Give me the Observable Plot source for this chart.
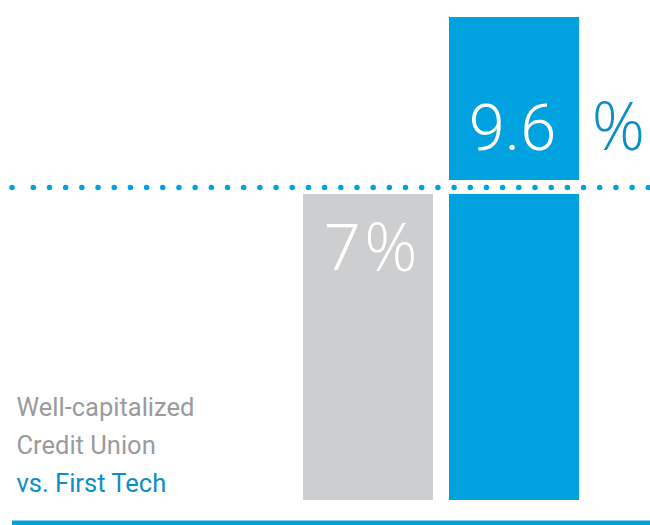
<!DOCTYPE html>
<html>
<head>
<meta charset="utf-8">
<script src="https://cdn.jsdelivr.net/npm/d3@7"></script>
<script src="https://cdn.jsdelivr.net/npm/@observablehq/plot@0.6"></script>
<style>
  html, body { margin: 0; padding: 0; background: #fff; }
  #chart svg { display: block; }
</style>
</head>
<body>
<div id="chart"></div>
<script>
// ---- data ----
const categories = ["Well-capitalized Credit Union", "First Tech"];
const values = [7, 9.6];
const valueLabels = ["7", "9.6"];
const unitLabel = "%";
const threshold = 7;
const labelGray = ["Well-capitalized", "Credit Union"];
const labelBlue = ["vs. First Tech"];
const barColors = ["#cdced0", "#00a1df"];

// ---- derived tables ----
const lower = categories.map((c, i) => ({cat: c, y1: 0, y2: Math.min(values[i], threshold), color: barColors[i]}));
const upper = categories
  .map((c, i) => ({cat: c, y1: threshold, y2: values[i], color: barColors[i]}))
  .filter(d => d.y2 > d.y1);
const labels = categories.map((c, i) => ({cat: c, y: values[i], text: valueLabels[i]}));

const BLUE_TEXT = "#0b8fc6";
const GRAY_TEXT = "#9a9b9d";

const dash = "0 21.3 " + "0 16.184 ".repeat(40);
const big = {fontSize: 65, fontWeight: 300, fontFamily: "Roboto", lineAnchor: "middle"};
const pct = {fontSize: 66, fontWeight: 300, fontFamily: "'Open Sans'", lineAnchor: "middle"};

const chart = Plot.plot({
  width: 650,
  height: 525,
  marginLeft: 12,
  marginRight: 0,
  marginTop: 0,
  marginBottom: 0,
  style: {fontFamily: "Roboto, sans-serif", background: "#fff"},
  x: {type: "band", domain: categories, range: [303, 579], paddingInner: 16 / 146, paddingOuter: 0, axis: null},
  y: {type: "linear", domain: [0, 7, 9.6], range: [500, 187, 17], axis: null},
  marks: [
    Plot.rectY(lower, {x: "cat", y1: "y1", y2: "y2", fill: "color", insetTop: 7}),
    Plot.rectY(upper, {x: "cat", y1: "y1", y2: "y2", fill: "color", insetBottom: 7}),
    Plot.ruleY([threshold], {stroke: "#00a1df", strokeWidth: 5.5, strokeLinecap: "round", strokeDasharray: dash}),
    Plot.ruleY([0], {stroke: "#00a1df", strokeWidth: 5, dy: 22.5}),
    // value labels
    Plot.text([labels[0]], {x: "cat", y: "y", text: "text", fill: "#fff", ...big, dy: 62, dx: -26}),
    Plot.text([labels[0]], {x: "cat", y: "y", text: () => unitLabel, fill: "#fff", ...pct, dy: 62, dx: 22.5}),
    Plot.text([labels[1]], {x: "cat", y: "y", text: "text", fill: "#fff", ...big, dy: 111.5, dx: -2}),
    Plot.text([labels[1]], {x: "cat", y: "y", text: () => unitLabel, fill: BLUE_TEXT, ...pct, dy: 111.5, dx: 104}),
    // left labels
    Plot.text([labelGray.join("\n")], {frameAnchor: "bottom-left", textAnchor: "start", lineAnchor: "bottom", lineHeight: 1.46, fill: GRAY_TEXT, fontSize: 25.5, fontWeight: 400, dx: 4, dy: -72}),
    Plot.text([labelBlue.join("\n")], {frameAnchor: "bottom-left", textAnchor: "start", lineAnchor: "bottom", fill: BLUE_TEXT, fontSize: 25.5, fontWeight: 400, dx: 4, dy: -34})
  ]
});
document.getElementById("chart").appendChild(chart);
</script>
</body>
</html>
